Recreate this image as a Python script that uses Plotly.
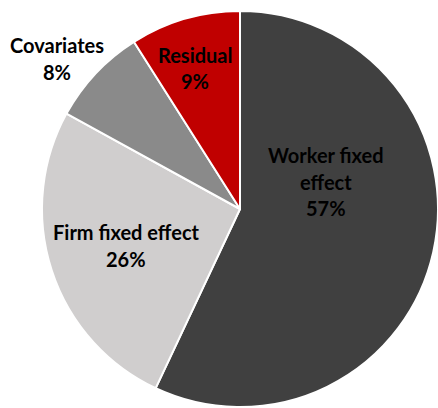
import plotly.graph_objects as go

# Variance decomposition shares (percent)
labels = ["Worker fixed effect", "Firm fixed effect", "Covariates", "Residual"]
values = [57, 26, 8, 9]
colors = ["#404040", "#d0cece", "#8a8a8a", "#c00000"]

# Label text lines and their centres (pixels from top-left of the figure)
label_lines = [
    ["Worker fixed", "effect"],
    ["Firm fixed effect"],
    ["Covariates"],
    ["Residual"],
]
label_centres = [(326, 155), (126, 232), (57, 45), (195, 55)]

W, H = 438, 408
LINE = 26.5
FONT = dict(family="Lato, 'Open Sans', sans-serif", size=20, color="#000000")

fig = go.Figure(
    go.Pie(
        labels=labels,
        values=values,
        sort=False,
        direction="clockwise",
        rotation=0,
        marker=dict(colors=colors, line=dict(color="#ffffff", width=2)),
        textinfo="none",
        hoverinfo="label+percent",
        showlegend=False,
        domain=dict(x=[42 / W, 1.0], y=[0.0, 398 / H]),
    )
)

total = sum(values)
annotations = []
for lines, value, (cx, cy) in zip(label_lines, values, label_centres):
    all_lines = lines + [f"{round(100 * value / total)}%"]
    for i, line in enumerate(all_lines):
        annotations.append(
            dict(
                text=f"<b>{line}</b>",
                x=cx / W,
                y=1 - (cy + i * LINE) / H,
                xref="paper",
                yref="paper",
                xanchor="center",
                yanchor="middle",
                showarrow=False,
                font=FONT,
            )
        )

fig.update_layout(
    width=W,
    height=H,
    margin=dict(l=0, r=0, t=0, b=0),
    paper_bgcolor="#ffffff",
    plot_bgcolor="#ffffff",
    annotations=annotations,
)

fig.write_html("out.html")
